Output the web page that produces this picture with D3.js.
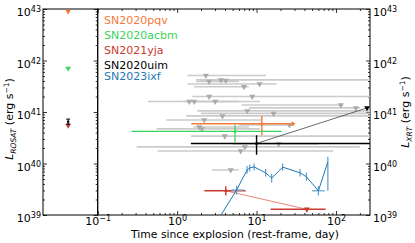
<!DOCTYPE html>
<html>
<head>
<meta charset="utf-8">
<script src="https://cdn.jsdelivr.net/npm/d3@7"></script>
<style>
  body { margin: 0; background: #fff; }
  svg { font-family: "DejaVu Sans", sans-serif; }
</style>
</head>
<body>
<script>
// ---- data ----

// legend
var snNames  = ["SN2020pqv", "SN2020acbm", "SN2021yja", "SN2020uim", "SN2023ixf"];

// ROSAT panel (left): pqv, acbm, yja, uim
var rosatL     = [9.0e42, 7.0e41, 5.5e40, 6.5e40];
var rosatLimit = [true, true, true, false];

// grey upper limits (other SNe): time, time range, luminosity
var grayT   = [2.30, 3.55, 2.53, 4.10, 10.9, 6.94, 2.53, 8.81, 1.42, 1.64, 3.01, 115, 178, 7.63, 16.4, 3.72, 2.19, 26, 1.90, 2.05, 3.98, 19, 7.14, 6.31, 4.73];
var grayTlo = [1.35, 1.73, 1.74, 2.0, 1.35, 1.64, 1.55, 6.0, 0.43, 1.2, 1.6, 6.5, 8.0, 1.8, 2.0, 1.3, 0.73, 6.0, 1.6, 0.55, 1.5, 5.0, 0.31, 0.57, 2.76];
var grayThi = [13.1, 400, 6.0, 6.0, 17.9, 8.0, 6.0, 400, 6.0, 6.0, 11, 123, 200, 400, 400, 400, 11.5, 30, 8.0, 11, 400, 60, 200, 92, 6.0];
var grayL   = [5.1e41, 4.2e41, 3.9e41, 4.1e41, 3.5e41, 3.1e41, 2.0e41, 2.0e41, 1.6e41, 1.6e41, 1.6e41, 1.37e41, 1.2e41, 1.05e41, 9.4e40, 8.4e40, 7.0e40, 5.6e40, 5.1e40, 4.7e40, 3.4e40, 2.4e40, 2.1e40, 1.75e40, 7.5e39];

// SN2020pqv (orange), lower limit on time
var pqvT = 11.65, pqvTlo = 1.51, pqvThi = 27.6, pqvL = 5.9e40, pqvLlo = 3.55e40, pqvLhi = 8.3e40;
// SN2020acbm (green)
var acbmT = 5.36, acbmTlo = 0.266, acbmThi = 20.7, acbmL = 4.2e40, acbmLlo = 2.6e40, acbmLhi = 5.6e40;
// SN2020uim (black) + late limit
var uimT = 10.0, uimTlo = 1.49, uimThi = 400, uimL = 2.45e40, uimLlo = 1.48e40, uimLhi = 3.55e40;
var uimLateT = 246, uimLateL = 1.2e41;
// SN2021yja (red) + later limit
var yjaT = 4.1, yjaTlo = 2.2, yjaThi = 7.3, yjaL = 2.95e39, yjaLlo = 2.4e39, yjaLhi = 3.6e39;
var yjaLimT = 43, yjaLimTlo = 15, yjaLimThi = 74, yjaLimL = 1.29e39;

// SN2023ixf (blue) light curve
var ixfT   = [3.0, 5.6, 7.6, 8.2, 9.3, 13.0, 15.5, 21.3, 35.3, 42.5, 60, 79];
var ixfL   = [6.5e38, 3.05e39, 7.5e39, 8.2e39, 8.6e39, 6.6e39, 5.2e39, 8.5e39, 6.6e39, 5.5e39, 2.95e39, 1.07e40];
var ixfLlo = [null, 2.5e39, 6.3e39, 7.0e39, 7.3e39, 5.6e39, 4.3e39, 7.2e39, 5.6e39, 4.6e39, 2.4e39, 2.95e39];
var ixfLhi = [null, 3.7e39, 8.9e39, 9.6e39, 1.0e40, 7.8e39, 6.3e39, 1.0e40, 7.8e39, 6.6e39, 3.6e39, 1.35e40];
var ixfTlo = [null, 4.8, null, null, null, null, null, null, null, null, 50, null];
var ixfThi = [null, 6.9, null, null, null, null, null, null, null, null, 72, null];

var xTicks = [0.1, 1, 10, 100];
var yTicks = [1e39, 1e40, 1e41, 1e42, 1e43];

// ---- layout ----
var plotTop = 9, plotBottom = 215;
var lx0 = 43, lx1 = 97.7, rx1 = 370;

var orange = "#f47a3a", green = "#3ad45c", red = "#c93b2e", blue = "#1f77b4";

var svg = d3.select("body").append("svg")
    .attr("width", 415).attr("height", 243);

var y = d3.scaleLog().domain([1e39, 1e43]).range([plotBottom, plotTop]);
var x = d3.scaleLog().domain([0.1, 268]).range([lx1, rx1]);
var xl = d3.scalePoint().domain(["ROSAT"]).range([lx0, lx1]).align(0.46);

var minorY = y.ticks().filter(function (d) { return yTicks.indexOf(d) < 0; });
var minorX = x.ticks().filter(function (d) { return xTicks.indexOf(d) < 0; });

function powLabel(sel) {
  sel.text(null);
  sel.append("tspan").text("10");
  sel.append("tspan").attr("dy", "-0.5em").attr("font-size", "8px")
     .text(function (d) { return String(Math.round(Math.log10(d))).replace("-", "\u2212"); });
}

function styleAxis(g) {
  g.select(".domain").remove();
  g.selectAll("line").attr("stroke", "#000").attr("stroke-width", 0.8);
  g.selectAll("text").attr("font-size", "11px").attr("fill", "#000").attr("font-family", "DejaVu Sans, sans-serif");
}

// clip for right panel
svg.append("clipPath").attr("id", "clipR").append("rect")
  .attr("x", lx1).attr("y", plotTop).attr("width", rx1 - lx1).attr("height", plotBottom - plotTop);

// left panel y axis (labels left, ticks inward)
svg.append("g").attr("transform", "translate(" + lx0 + ",0)")
  .call(d3.axisLeft(y).tickValues(yTicks).tickSize(-4).tickPadding(2).tickFormat(""))
  .call(styleAxis)
  .call(function (g) { g.selectAll(".tick text").attr("dy", "0.62em").call(powLabel); });
svg.append("g").attr("transform", "translate(" + lx0 + ",0)")
  .call(d3.axisLeft(y).tickValues(minorY).tickSize(-2).tickFormat(""))
  .call(styleAxis);
// left panel right side ticks
svg.append("g").attr("transform", "translate(" + lx1 + ",0)")
  .call(d3.axisRight(y).tickValues(yTicks).tickSize(-4).tickFormat(""))
  .call(styleAxis);
svg.append("g").attr("transform", "translate(" + lx1 + ",0)")
  .call(d3.axisRight(y).tickValues(minorY).tickSize(-2).tickFormat(""))
  .call(styleAxis);

// right panel y axis on right
svg.append("g").attr("transform", "translate(" + rx1 + ",0)")
  .call(d3.axisRight(y).tickValues(yTicks).tickSize(-4).tickPadding(3).tickFormat(""))
  .call(styleAxis)
  .call(function (g) { g.selectAll(".tick text").attr("dy", "0.62em").call(powLabel); });
svg.append("g").attr("transform", "translate(" + rx1 + ",0)")
  .call(d3.axisRight(y).tickValues(minorY).tickSize(-2).tickFormat(""))
  .call(styleAxis);

// x axes for right panel
svg.append("g").attr("transform", "translate(0," + plotBottom + ")")
  .call(d3.axisBottom(x).tickValues(xTicks).tickSize(-4).tickPadding(3).tickFormat(""))
  .call(styleAxis)
  .call(function (g) { g.selectAll(".tick text").attr("dy", "0.68em").call(powLabel); });
svg.append("g").attr("transform", "translate(0," + plotBottom + ")")
  .call(d3.axisBottom(x).tickValues(minorX).tickSize(-2).tickFormat(""))
  .call(styleAxis);
svg.append("g").attr("transform", "translate(0," + plotTop + ")")
  .call(d3.axisTop(x).tickValues(xTicks).tickSize(-4).tickFormat(""))
  .call(styleAxis);
svg.append("g").attr("transform", "translate(0," + plotTop + ")")
  .call(d3.axisTop(x).tickValues(minorX).tickSize(-2).tickFormat(""))
  .call(styleAxis);

// frames
svg.append("rect").attr("x", lx0).attr("y", plotTop).attr("width", lx1 - lx0).attr("height", plotBottom - plotTop)
  .attr("fill", "none").attr("stroke", "#000").attr("stroke-width", 1);
svg.append("rect").attr("x", lx1).attr("y", plotTop).attr("width", rx1 - lx1).attr("height", plotBottom - plotTop)
  .attr("fill", "none").attr("stroke", "#000").attr("stroke-width", 1);

var triDown = d3.symbol().type(d3.symbolTriangle);

// ---- left panel points ----
var lp = svg.append("g");
var rosatColors = [orange, green, red, "#000"];
rosatL.forEach(function (v, i) {
  var cx = xl("ROSAT"), cy = y(v);
  if (rosatLimit[i]) {
    lp.append("path").attr("d", triDown.size(14)())
      .attr("transform", "translate(" + cx + "," + cy + ") rotate(180)")
      .attr("fill", rosatColors[i]);
  } else {
    lp.append("line").attr("x1", cx).attr("x2", cx).attr("y1", y(v * 1.12)).attr("y2", y(v / 1.12))
      .attr("stroke", "#000").attr("stroke-width", 1);
    [v * 1.12, v / 1.12].forEach(function (e) {
      lp.append("line").attr("x1", cx - 2).attr("x2", cx + 2).attr("y1", y(e)).attr("y2", y(e))
        .attr("stroke", "#000").attr("stroke-width", 1);
    });
    lp.append("circle").attr("cx", cx).attr("cy", cy).attr("r", 1.2).attr("fill", "#000");
  }
});

// ---- right panel ----
var rp = svg.append("g").attr("clip-path", "url(#clipR)");

// grey limits
grayL.forEach(function (v, i) {
  rp.append("line").attr("x1", x(grayTlo[i])).attr("x2", x(grayThi[i]))
    .attr("y1", y(v)).attr("y2", y(v))
    .attr("stroke", "#cbcbcb").attr("stroke-width", 1.6);
});
grayL.forEach(function (v, i) {
  rp.append("path").attr("d", triDown.size(16)())
    .attr("transform", "translate(" + x(grayT[i]) + "," + y(v) + ") rotate(180)")
    .attr("fill", "#aaaaaa");
});

function errCross(g, t, tlo, thi, L, llo, lhi, col, w) {
  g.append("line").attr("x1", x(tlo)).attr("x2", x(thi)).attr("y1", y(L)).attr("y2", y(L))
    .attr("stroke", col).attr("stroke-width", w);
  g.append("line").attr("x1", x(t)).attr("x2", x(t)).attr("y1", y(llo)).attr("y2", y(lhi))
    .attr("stroke", col).attr("stroke-width", w);
  g.append("circle").attr("cx", x(t)).attr("cy", y(L)).attr("r", 1.5).attr("fill", col);
}

// uim late connection
rp.append("line").attr("x1", x(uimT)).attr("y1", y(uimL)).attr("x2", x(uimLateT)).attr("y2", y(uimLateL))
  .attr("stroke", "#444").attr("stroke-width", 0.8);
rp.append("path").attr("d", triDown.size(14)())
  .attr("transform", "translate(" + x(uimLateT) + "," + y(uimLateL) + ") rotate(180)")
  .attr("fill", "#000");

// yja line to later limit
rp.append("line").attr("x1", x(yjaT)).attr("y1", y(yjaL)).attr("x2", x(yjaLimT)).attr("y2", y(yjaLimL))
  .attr("stroke", "#e8786d").attr("stroke-width", 0.9);
rp.append("line").attr("x1", x(yjaLimTlo)).attr("x2", x(yjaLimThi)).attr("y1", y(yjaLimL)).attr("y2", y(yjaLimL))
  .attr("stroke", red).attr("stroke-width", 1.4);
rp.append("path").attr("d", triDown.size(16)())
  .attr("transform", "translate(" + x(yjaLimT) + "," + y(yjaLimL) + ") rotate(180)")
  .attr("fill", red);

errCross(rp, pqvT, pqvTlo, pqvThi, pqvL, pqvLlo, pqvLhi, orange, 1.4);
rp.append("path").attr("d", "M0,-2.5L4,0L0,2.5Z")
  .attr("transform", "translate(" + x(pqvThi) + "," + y(pqvL) + ")").attr("fill", orange);
errCross(rp, acbmT, acbmTlo, acbmThi, acbmL, acbmLlo, acbmLhi, green, 1.3);
errCross(rp, uimT, uimTlo, uimThi, uimL, uimLlo, uimLhi, "#000", 1.4);
errCross(rp, yjaT, yjaTlo, yjaThi, yjaL, yjaLlo, yjaLhi, red, 1.4);

// SN2023ixf
ixfT.forEach(function (t, i) {
  if (ixfTlo[i] !== null) {
    rp.append("line").attr("x1", x(ixfTlo[i])).attr("x2", x(ixfThi[i])).attr("y1", y(ixfL[i])).attr("y2", y(ixfL[i]))
      .attr("stroke", "#7fb1d9").attr("stroke-width", 1.6);
  }
  if (ixfLlo[i] !== null) {
    rp.append("line").attr("x1", x(t)).attr("x2", x(t)).attr("y1", y(ixfLlo[i])).attr("y2", y(ixfLhi[i]))
      .attr("stroke", "#5b9bcf").attr("stroke-width", 1.2);
  }
});
rp.append("path").datum(ixfT)
  .attr("d", d3.line().x(function (d) { return x(d); }).y(function (d, i) { return y(ixfL[i]); }))
  .attr("fill", "none").attr("stroke", blue).attr("stroke-width", 1);

// legend (text only)
var legendColors = [orange, green, red, "#000", blue];
var legendY = [24, 38.5, 54, 69, 80];
snNames.forEach(function (n, i) {
  svg.append("text").attr("x", 104).attr("y", legendY[i])
    .attr("font-size", "11px").attr("fill", legendColors[i]).text(n);
});

// axis labels
svg.append("text").attr("x", 235).attr("y", 238).attr("text-anchor", "middle")
  .attr("font-size", "10.8px").text("Time since explosion  (rest-frame, day)");

function lumLabel(sel, sub) {
  sel.append("tspan").attr("font-style", "italic").text("L");
  sel.append("tspan").attr("font-style", "italic").attr("font-size", "7.5px").attr("dy", "2.5").text(sub);
  sel.append("tspan").attr("dy", "-2.5").text(" (erg s");
  sel.append("tspan").attr("font-size", "7.5px").attr("dy", "-4").text("\u22121");
  sel.append("tspan").attr("dy", "4").text(")");
}
svg.append("text").attr("transform", "translate(13,119) rotate(-90)")
  .attr("text-anchor", "middle").attr("font-size", "11px").call(lumLabel, "ROSAT");
svg.append("text").attr("transform", "translate(409,112) rotate(-90)")
  .attr("text-anchor", "middle").attr("font-size", "11px").call(lumLabel, "XRT");
</script>
</body>
</html>
